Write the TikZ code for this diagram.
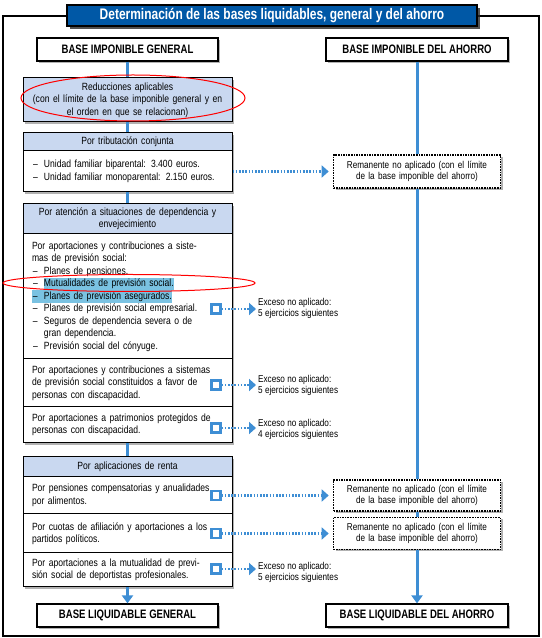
\documentclass[tikz,border=0pt]{standalone}
\usepackage{fontspec}
\setmainfont{Liberation Sans}[FakeStretch=0.82]
\newfontfamily\headfont{Liberation Sans}[FakeStretch=0.78]
\usetikzlibrary{arrows.meta,shadows}

\definecolor{titleblue}{RGB}{0,88,166}
\definecolor{bandblue}{RGB}{201,216,240}
\definecolor{lineblue}{RGB}{62,142,212}
\definecolor{hlblue}{RGB}{122,194,226}

\newcommand{\itemdash}{\makebox[12bp][l]{\hspace{1bp}–}}
\newcommand{\hlbox}[1]{{\setlength{\fboxsep}{0pt}\colorbox{hlblue}{\strut #1}}}

\begin{document}
\begin{tikzpicture}[line join=miter,
  every node/.style={font=\fontsize{10.5}{12.5}\selectfont},
  boxshadow/.style={drop shadow={shadow xshift=2bp,shadow yshift=-2bp,fill=black!55,opacity=0.55}},
  titlebox/.style={draw=black,line width=1.5bp,fill=titleblue,text=white,
    font=\headfont\bfseries\fontsize{15.4}{16}\selectfont,
    minimum width=410bp,minimum height=21bp,inner sep=0pt,
    drop shadow={shadow xshift=3bp,shadow yshift=-3bp,fill=black!85,opacity=0.8}},
  basebox/.style={draw,line width=1.2bp,fill=white,boxshadow,
    font=\headfont\bfseries\fontsize{12.3}{14}\selectfont,
    minimum width=181bp,minimum height=23bp,inner sep=0pt},
  bandbox/.style={draw,line width=1bp,fill=bandblue,boxshadow,
    minimum width=209bp,text width=195bp,inner xsep=7bp,inner ysep=0pt,align=center},
  bodybox/.style={draw,line width=1bp,fill=white,boxshadow,
    minimum width=209bp,text width=191bp,inner xsep=9bp,inner ysep=0pt,align=left},
  remabox/.style={draw,densely dotted,line width=1.6bp,fill=white,boxshadow,
    minimum width=167bp,text width=160bp,inner xsep=3.5bp,inner ysep=0pt,align=center,
    font=\fontsize{10}{11}\selectfont},
  sqbox/.style={draw=lineblue,line width=2.2bp,fill=white,minimum size=9bp,inner sep=0pt},
  excnote/.style={anchor=west,align=left,inner sep=2bp,font=\fontsize{10}{11}\selectfont},
  bluelink/.style={draw=lineblue,line width=3bp},
  downlink/.style={bluelink,-{Triangle[width=11bp,length=8bp]}},
  dotlink/.style={draw=lineblue,line width=2.2bp,dash pattern=on 1.6bp off 1.6bp,
    -{Triangle[width=12bp,length=7bp]}}]
\useasboundingbox (0bp,0bp) rectangle (542bp,638bp);
%%
  % Frame
  \draw [line width=2bp] (3bp,2bp) rectangle (539bp,622bp);
  % Node: title
  \node [titlebox] (title) at (272bp,622.5bp) {Determinación de las bases liquidables, general y del ahorro};
  % Node: big
  \node [basebox] (big) at (127.5bp,588.5bp) {BASE IMPONIBLE GENERAL};
  % Node: bia
  \node [basebox,minimum width=182bp] (bia) at (417bp,588.5bp) {BASE IMPONIBLE DEL AHORRO};
  % Node: red
  \node [bandbox,minimum height=44bp] (red) at (127.5bp,538bp)
    {Reducciones aplicables\\(con el límite de la base imponible general y en\\el orden en que se relacionan)};
  % Node: tribhead
  \node [bandbox,minimum height=18bp] (tribhead) at (127.5bp,496bp) {Por tributación conjunta};
  % Node: tribbody
  \node [bodybox,minimum height=41bp] (tribbody) at (127.5bp,466.5bp)
    {\itemdash Unidad familiar biparental: 3.400 euros.\\
     \itemdash Unidad familiar monoparental: 2.150 euros.};
  % Node: dephead
  \node [bandbox,minimum height=30bp] (dephead) at (127.5bp,419bp)
    {Por atención a situaciones de dependencia y\\envejecimiento};
  % Node: depbody
  \node [bodybox,minimum height=125bp] (depbody) at (127.5bp,341.5bp)
    {Por aportaciones y contribuciones a siste-\\
     mas de previsión social:\\
     \itemdash Planes de pensiones.\\
     \itemdash\hlbox{Mutualidades de previsión social.}\\
     \hlbox{\itemdash Planes de previsión asegurados.}\\
     \itemdash Planes de previsión social empresarial.\\
     \itemdash Seguros de dependencia severa o de\\
     \hspace*{12bp}gran dependencia.\\
     \itemdash Previsión social del cónyuge.};
  % Node: dep2
  \node [bodybox,minimum height=48bp] (dep2) at (127.5bp,255bp)
    {Por aportaciones y contribuciones a sistemas\\
     de previsión social constituidos a favor de\\
     personas con discapacidad.};
  % Node: dep3
  \node [bodybox,minimum height=36bp] (dep3) at (127.5bp,213bp)
    {Por aportaciones a patrimonios protegidos de\\
     personas con discapacidad.};
  % Node: aplhead
  \node [bandbox,minimum height=20bp] (aplhead) at (127.5bp,171bp) {Por aplicaciones de renta};
  % Node: apl1
  \node [bodybox,minimum height=37bp] (apl1) at (127.5bp,142.5bp)
    {Por pensiones compensatorias y anualidades\\por alimentos.};
  % Node: apl2
  \node [bodybox,minimum height=39bp] (apl2) at (127.5bp,104.5bp)
    {Por cuotas de afiliación y aportaciones a los\\partidos políticos.};
  % Node: apl3
  \node [bodybox,minimum height=34bp] (apl3) at (127.5bp,68bp)
    {Por aportaciones a la mutualidad de previ-\\sión social de deportistas profesionales.};
  % Node: blg
  \node [basebox] (blg) at (127.5bp,22.5bp) {BASE LIQUIDABLE GENERAL};
  % Node: bla
  \node [basebox,minimum width=182bp] (bla) at (417bp,22.5bp) {BASE LIQUIDABLE DEL AHORRO};
  % Node: rem1, rem2, rem3
  \node [remabox,minimum height=33bp] (rem1) at (417bp,466.5bp)
    {Remanente no aplicado (con el límite\\de la base imponible del ahorro)};
  \node [remabox,minimum height=31bp] (rem2) at (417bp,142.5bp)
    {Remanente no aplicado (con el límite\\de la base imponible del ahorro)};
  \node [remabox,minimum height=32bp] (rem3) at (417bp,104.5bp)
    {Remanente no aplicado (con el límite\\de la base imponible del ahorro)};
  % Node: squares
  \node [sqbox] (sq1) at (216bp,329bp) {};
  \node [sqbox] (sq2) at (216bp,253bp) {};
  \node [sqbox] (sq3) at (216bp,210bp) {};
  \node [sqbox] (sq4) at (216bp,142.5bp) {};
  \node [sqbox] (sq5) at (216bp,104.5bp) {};
  \node [sqbox] (sq6) at (216bp,69bp) {};
  % Node: exceso notes
  \node [excnote] (exc1) at (256bp,330bp) {Exceso no aplicado:\\5 ejercicios siguientes};
  \node [excnote] (exc2) at (256bp,253bp) {Exceso no aplicado:\\5 ejercicios siguientes};
  \node [excnote] (exc3) at (256bp,209bp) {Exceso no aplicado:\\4 ejercicios siguientes};
  \node [excnote] (exc4) at (256bp,66bp) {Exceso no aplicado:\\5 ejercicios siguientes};
  % Edge: big -- red -- tribhead, tribbody -- dephead, dep3 -- aplhead, apl3 -- blg
  \draw [bluelink] (big) -- (red);
  \draw [bluelink] (red) -- (tribhead);
  \draw [bluelink] (tribbody) -- (dephead);
  \draw [bluelink] (dep3) -- (aplhead);
  \draw [downlink] (apl3) -- (blg);
  % Edge: bia -- rem1 -- rem2 -- rem3 -- bla
  \draw [bluelink] (bia) -- (rem1);
  \draw [bluelink] (rem1) -- (rem2);
  \draw [bluelink] (rem2) -- (rem3);
  \draw [downlink] (rem3) -- (bla);
  % Edge: dotted arrows
  \draw [dotlink,shorten >=4bp] (tribbody) -- (rem1);
  \draw [dotlink,shorten >=4bp] (sq4) -- (rem2);
  \draw [dotlink,shorten >=4bp] (sq5) -- (rem3);
  \draw [dotlink] (sq1) -- (sq1 -| exc1.west);
  \draw [dotlink] (sq2) -- (sq2 -| exc2.west);
  \draw [dotlink] (sq3) -- (sq3 -| exc3.west);
  \draw [dotlink] (sq6) -- (sq6 -| exc4.west);
  % Marks
  \draw [red,line width=1bp] (133bp,540bp) ellipse (112bp and 23bp);
  \draw [red,line width=1bp] (129bp,355bp) ellipse (126bp and 8.5bp);
%
\end{tikzpicture}
\end{document}
